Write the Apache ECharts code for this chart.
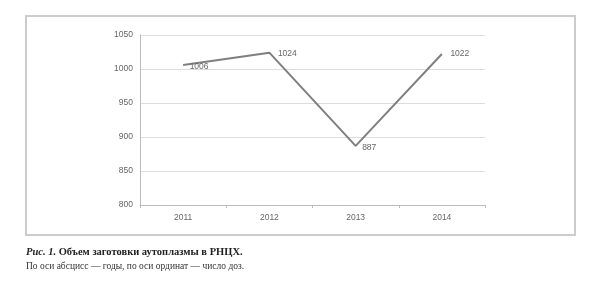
<!DOCTYPE html>
<html><head><meta charset="utf-8">
<script src="https://cdn.jsdelivr.net/npm/echarts@6/dist/echarts.min.js"></script>
<style>html,body{margin:0;padding:0;background:#fff}#c{width:600px;height:284px}</style>
</head><body><div id="c"></div>
<script>
const years = ['2011','2012','2013','2014'];
const doses = [1006, 1024, 887, 1022];
const yTicks = {min: 800, max: 1050, interval: 50};
const captionTitle = 'Рис. 1.';
const captionText = ' Объем заготовки аутоплазмы в РНЦХ.';
const captionNote = 'По оси абсцисс — годы, по оси ординат — число доз.';
const labelOffsets = [[0,2],[2,1],[0,2],[2,0]];

const chart = echarts.init(document.getElementById('c'), null, {renderer:'canvas'});
chart.setOption({
  backgroundColor:'#fff',
  animation:false,
  graphic:[
    {type:'rect', shape:{x:26,y:16,width:549,height:219}, style:{fill:'none',stroke:'#cccccc',lineWidth:2}, z:-1}
  ],
  title:[
    {text:'{i|'+captionTitle+'}{b|'+captionText+'}', left:26, top:247, padding:0,
     textStyle:{rich:{
       i:{fontFamily:'Liberation Serif',fontSize:10.5,fontWeight:'bold',fontStyle:'italic',color:'#222'},
       b:{fontFamily:'Liberation Serif',fontSize:10.5,fontWeight:'bold',color:'#222'}}}},
    {text:captionNote, left:26, top:261, padding:0,
     textStyle:{fontFamily:'Liberation Serif',fontSize:9.5,fontWeight:'normal',color:'#333'}}
  ],
  grid:{left:140,right:115,top:35,bottom:79},
  xAxis:{type:'category',data:years,boundaryGap:true,
    axisLine:{lineStyle:{color:'#bbbbbb',width:1}},
    axisTick:{show:true,length:3,lineStyle:{color:'#bbbbbb'}},
    axisLabel:{color:'#666',fontSize:8.5,fontFamily:'Liberation Sans',margin:8}},
  yAxis:{type:'value',min:yTicks.min,max:yTicks.max,interval:yTicks.interval,
    axisLine:{show:true,lineStyle:{color:'#bbbbbb'}},
    axisTick:{show:false},
    splitLine:{lineStyle:{color:'#dddddd',width:1}},
    axisLabel:{color:'#666',fontSize:8.5,fontFamily:'Liberation Sans',margin:7,formatter:v=>String(v)}},
  series:[{type:'line',data:doses.map((v,i)=>({value:v,label:{offset:labelOffsets[i]}})),
    showSymbol:true, symbol:'circle', symbolSize:1,
    itemStyle:{color:'rgba(0,0,0,0)'},
    lineStyle:{color:'#7f7f7f',width:2},
    label:{show:true,position:'right',distance:6,color:'#666',fontSize:8.5,fontFamily:'Liberation Sans'}}]
});
</script></body></html>
